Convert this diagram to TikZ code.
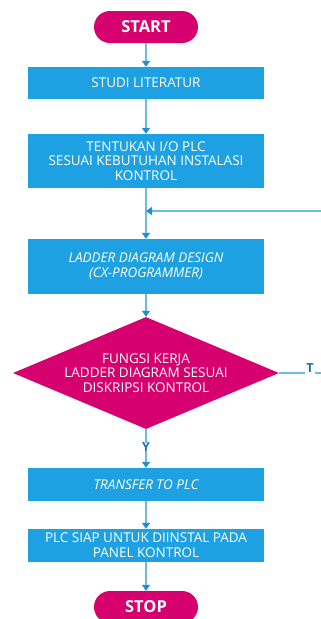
\documentclass[tikz,border=0pt]{standalone}
\usepackage{fontspec}
\setmainfont{Open Sans}
\usetikzlibrary{arrows.meta,shapes.geometric}
\definecolor{boxblue}{HTML}{1DA1E2}
\definecolor{termred}{HTML}{D6006E}
\definecolor{linkblue}{HTML}{6BBBE8}
\definecolor{tipblue}{HTML}{1C8FD6}
\definecolor{lblblue}{HTML}{1B6FA6}
\tikzset{
  x=1pt, y=-1pt,
  boxfont/.style={font=\fontsize{13.5}{14.7}\selectfont},
  stepbox/.style={fill=boxblue, text=white, minimum width=236pt, inner sep=0pt,
    align=center, boxfont},
  term/.style={fill=termred, text=white, rounded corners=16pt, minimum width=104pt,
    minimum height=32pt, inner sep=0pt, font=\fontsize{16.5}{18}\bfseries\selectfont},
  decide/.style={diamond, fill=termred, text=white, inner sep=0pt, align=center,
    minimum width=266pt, minimum height=112pt, aspect=2.375, boxfont},
  link/.style={draw=linkblue, line width=1.2pt},
  flow/.style={link, -{Triangle[length=6pt,width=8pt,color=tipblue]}},
  lbl/.style={text=lblblue, font=\fontsize{12.5}{14}\bfseries\selectfont, inner sep=0pt}
}
\begin{document}
\begin{tikzpicture}
\useasboundingbox (0,0) rectangle (321,619);
\node[term] (start) at (146,27) {START};
\node[stepbox, minimum height=32pt] (studi) at (146,83) {STUDI LITERATUR};
\node[stepbox, minimum height=54pt] (io) at (146,161) {TENTUKAN I/O PLC\\SESUAI KEBUTUHAN INSTALASI\\KONTROL};
\node[stepbox, minimum height=55pt, font=\fontsize{13.5}{14.7}\itshape\selectfont] (ladder) at (146,266.5) {LADDER DIAGRAM DESIGN\\(CX-PROGRAMMER)};
\node[decide] (cek) at (146,373) {FUNGSI KERJA\\LADDER DIAGRAM SESUAI\\DISKRIPSI KONTROL};
\node[lbl] (ya) at (146,447) {Y};
\node[stepbox, minimum height=33pt, font=\fontsize{13.5}{14.7}\itshape\selectfont] (transfer) at (146,484.5) {TRANSFER TO PLC};
\node[stepbox, minimum height=33pt] (siap) at (146,545.5) {PLC SIAP UNTUK DIINSTAL PADA\\PANEL KONTROL};
\node[term] (stop) at (146,607) {STOP};
\node[lbl, anchor=south] (tidak) at (310,373) {T};
\coordinate (tend) at (321,373);
\coordinate (back) at (321,211);
\coordinate (join) at (146,211);

\draw[flow] (start) -- (studi);
\draw[flow] (studi) -- (io);
\draw[flow] (io) -- (ladder);
\draw[flow] (back) -- (join);
\draw[flow] (ladder) -- (cek);
\draw[link] (cek.south) -- ([yshift=-1pt]ya.north);
\draw[flow] ([yshift=1pt]ya.south) -- (transfer);
\draw[flow] (transfer) -- (siap);
\draw[flow] (siap) -- (stop);
\draw[link] (cek.east) -- ([xshift=-1pt]tidak.south west);
\draw[link] ([xshift=1pt]tidak.south east) -- (tend);
\end{tikzpicture}
\end{document}
